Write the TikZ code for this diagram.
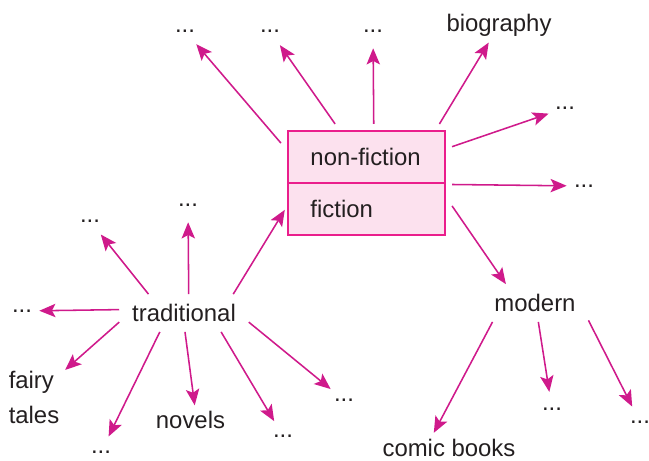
\documentclass[tikz,border=0pt]{standalone}
\usepackage{fontspec}
\setmainfont{Liberation Sans}
\usetikzlibrary{
  arrows.meta,
  fit
}
\definecolor{arrowpink}{HTML}{CF1A8B}
\definecolor{boxline}{HTML}{EA1E8C}
\definecolor{boxfill}{HTML}{FCE1EE}
\definecolor{ink}{HTML}{231F20}

\begin{document}
\begin{tikzpicture}[
  x=0.025cm, y=-0.025cm,
  every node/.style={font=\fontsize{17}{25}\selectfont, text=ink},
  part/.style={draw=boxline, line width=1.4pt, fill=boxfill, minimum width=3.925cm,
               minimum height=1.3cm, text width=2.8cm, inner xsep=0.5625cm, align=left},
  hub/.style={inner xsep=9pt, inner ysep=7pt},
  leaf/.style={inner sep=4pt, align=left},
  more/.style={circle, minimum size=0.85cm, inner sep=0pt},
  arr/.style={-{Stealth[length=11.5pt, width=9.5pt, inset=2.5pt]}, arrowpink, line width=1.1pt}
]
  \useasboundingbox (0,0) rectangle (649,460);

  % Categories
  \node[part] (nonfic) at (366.5,157) {non-fiction};
  \node[part] (fic) at (366.5,209) {fiction};
  \node[fit=(nonfic)(fic), inner sep=0pt, outer sep=4.3pt] (books) {};

  \node[hub] (trad) at (184,313) {traditional};
  \node[hub] (modern) at (535,303) {modern};

  % Non-fiction
  \node[more] (nf1) at (185,31) {...};
  \node[more] (nf2) at (270,31) {...};
  \node[more] (nf3) at (373,31) {...};
  \node[leaf] (bio) at (499,25.5) {biography};
  \node[more] (nf4) at (565,108) {...};
  \node[more] (nf5) at (584,186) {...};

  % Traditional
  \node[more] (tr1) at (90,221) {...};
  \node[more] (tr2) at (188,205) {...};
  \node[more] (tr3) at (22,311) {...};
  \node[leaf] (fairy) at (34,397.5) {fairy\\tales};
  \node[more] (tr4) at (101,452) {...};
  \node[leaf] (novels) at (190.5,420) {novels};
  \node[more] (tr5) at (283,436) {...};
  \node[more] (tr6) at (344,400) {...};

  % Modern
  \node[leaf] (comic) at (449,447.5) {comic books};
  \node[more] (md1) at (552,409) {...};
  \node[more] (md2) at (640,422) {...};

  % Arrows
  \draw[arr] (books.155) -- (nf1);
  \draw[arr] (books.118) -- (nf2);
  \draw[arr] (books.83) -- (nf3);
  \draw[arr] (books.39) -- (bio);
  \draw[arr] (books.23) -- (nf4);
  \draw[arr] (books.-1) -- (nf5);
  \draw[arr] (books.-15) -- (modern.147);

  \draw[arr, shorten >=3pt] (trad.21) -- (fic.178);
  \draw[arr] (trad.152) -- (tr1);
  \draw[arr] (trad.76) -- (tr2);
  \draw[arr] (trad.177) -- (tr3);
  \draw[arr] (trad.188) -- (fairy);
  \draw[arr] (trad.218) -- (tr4);
  \draw[arr] (trad.273) -- (novels.74);
  \draw[arr] (trad.333) -- (tr5);
  \draw[arr] (trad.352) -- (tr6);

  \draw[arr] (modern.204) -- (comic.136);
  \draw[arr] (modern.280) -- (md1);
  \draw[arr] (modern.342) -- (md2);
\end{tikzpicture}
\end{document}
